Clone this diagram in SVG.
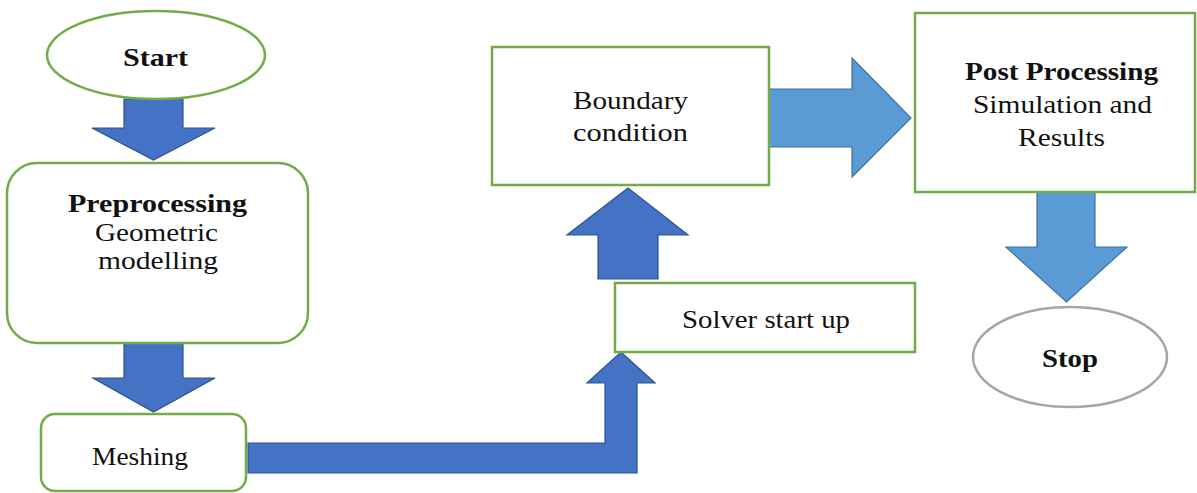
<svg xmlns="http://www.w3.org/2000/svg" width="1197" height="493" viewBox="0 0 1197 493" font-family="Liberation Serif, Tinos, Times New Roman, serif">
  <style>
    .bg { fill: #ffffff; }
    .node { fill: #ffffff; stroke: #70AD47; stroke-width: 2.5; }
    .term-end { fill: #ffffff; stroke: #A5A5A5; stroke-width: 2.5; }
    .arrow-dark { fill: #4472C4; stroke: #2F528F; stroke-width: 1.2; stroke-linejoin: miter; }
    .arrow-light { fill: #5B9BD5; stroke: #41719C; stroke-width: 1.2; stroke-linejoin: miter; }
    .lbl { font-family: 'Liberation Serif', Tinos, 'Times New Roman', Times, serif; font-size: 26px; fill: #111111; text-anchor: middle; }
    .b { font-weight: bold; }
  </style>

  <rect class="bg" x="0" y="0" width="1197" height="493"/>

  <!-- block arrows between steps -->
  <g id="connectors">
    <polygon class="arrow-dark" points="124,99 183,99 183,128 215,128 153.5,160 92,128 124,128"/>
    <polygon class="arrow-dark" points="124,343 183,343 183,378 215,378 153.5,412 93,378 124,378"/>
    <polygon class="arrow-dark" points="248,443 605,443 605,383 587,383 621,352 655,383 637,383 637,473 248,473"/>
    <polygon class="arrow-dark" points="598,279 598,235 567,235 628,188 688,235 658,235 658,279"/>
    <polygon class="arrow-light" points="769,89 852,89 852,58 911,118 852,177 852,147 769,147"/>
    <polygon class="arrow-light" points="1037,192 1095,192 1095,247 1127,247 1066.5,302 1006,247 1037,247"/>
  </g>

  <g id="start">
    <ellipse class="node" cx="156" cy="55" rx="109" ry="44"/>
    <text class="lbl b" x="155.5" y="66" textLength="65" lengthAdjust="spacingAndGlyphs">Start</text>
  </g>

  <g id="preprocessing">
    <rect class="node" x="7" y="163" width="301" height="180" rx="30" ry="30"/>
    <text class="lbl b" x="157.5" y="212" textLength="179" lengthAdjust="spacingAndGlyphs">Preprocessing</text>
    <text class="lbl" x="156.5" y="241" textLength="123" lengthAdjust="spacingAndGlyphs">Geometric</text>
    <text class="lbl" x="158" y="269" textLength="120" lengthAdjust="spacingAndGlyphs">modelling</text>
  </g>

  <g id="meshing">
    <rect class="node" x="41" y="414" width="205" height="77" rx="14" ry="14"/>
    <text class="lbl" x="140" y="465" textLength="96" lengthAdjust="spacingAndGlyphs">Meshing</text>
  </g>

  <g id="solver">
    <rect class="node" x="615" y="283" width="300" height="69"/>
    <text class="lbl" x="766" y="328" textLength="168" lengthAdjust="spacingAndGlyphs">Solver start up</text>
  </g>

  <g id="boundary">
    <rect class="node" x="492" y="47" width="277" height="138"/>
    <text class="lbl" x="630.5" y="109" textLength="115" lengthAdjust="spacingAndGlyphs">Boundary</text>
    <text class="lbl" x="630.5" y="141" textLength="115" lengthAdjust="spacingAndGlyphs">condition</text>
  </g>

  <g id="post-processing">
    <rect class="node" x="915" y="13" width="280" height="179"/>
    <text class="lbl b" x="1061.5" y="80" textLength="193" lengthAdjust="spacingAndGlyphs">Post Processing</text>
    <text class="lbl" x="1062.5" y="113" textLength="179" lengthAdjust="spacingAndGlyphs">Simulation and</text>
    <text class="lbl" x="1061.5" y="146" textLength="87" lengthAdjust="spacingAndGlyphs">Results</text>
  </g>

  <g id="stop">
    <ellipse class="term-end" cx="1070" cy="357" rx="97" ry="50"/>
    <text class="lbl b" x="1070" y="367" textLength="56" lengthAdjust="spacingAndGlyphs">Stop</text>
  </g>
</svg>
